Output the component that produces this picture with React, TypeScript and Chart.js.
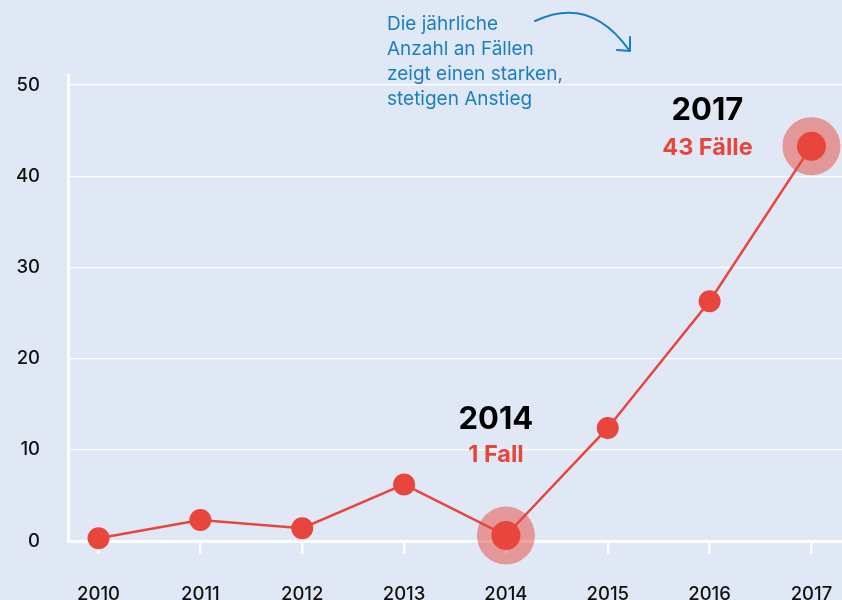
import React, { useEffect, useRef } from "react";
import { Chart, registerables } from "chart.js";

Chart.register(...registerables);

const years = [2010, 2011, 2012, 2013, 2014, 2015, 2016, 2017];
const cases = [0.3, 2.3, 1.4, 6.2, 0.6, 12.4, 26.3, 43.3];
const highlighted = [2014, 2017];
const highlightTitles = ["2014", "2017"];
const highlightLabels = ["1 Fall", "43 Fälle"];
const yTicks = [0, 10, 20, 30, 40, 50];
const noteLines = ["Die jährliche", "Anzahl an Fällen", "zeigt einen starken,", "stetigen Anstieg"];

const RED = "#e8453c";
const BG = "#e1e8f5";
const BLUE = "#1a7fc1";
const FONT = "Inter, 'Noto Sans', sans-serif";

export default function App() {
  const ref = useRef<HTMLCanvasElement | null>(null);

  useEffect(() => {
    if (!ref.current) return;
    const bgPlugin = {
      id: "bg",
      beforeDraw(chart: any) {
        const { ctx, width, height } = chart;
        ctx.save();
        ctx.fillStyle = BG;
        ctx.fillRect(0, 0, width, height);
        ctx.restore();
      },
    };
    const annPlugin = {
      id: "ann",
      afterDraw(chart: any) {
        const { ctx } = chart;
        const xs = chart.scales.x;
        const ys = chart.scales.y;
        ctx.save();
        const offsets = [
          { dx: -10, dyT: -116, dyL: -81 },
          { dx: -104, dyT: -35, dyL: 2 },
        ];
        highlighted.forEach((yr, i) => {
          const idx = years.indexOf(yr);
          const px = xs.getPixelForValue(yr);
          const py = ys.getPixelForValue(cases[idx]);
          const o = offsets[i];
          ctx.textAlign = "center";
          ctx.textBaseline = "middle";
          ctx.fillStyle = "#000";
          ctx.font = `700 31px ${FONT}`;
          ctx.fillText(highlightTitles[i], px + o.dx, py + o.dyT);
          ctx.fillStyle = RED;
          ctx.font = `700 23.5px ${FONT}`;
          ctx.fillText(highlightLabels[i], px + o.dx, py + o.dyL);
        });
        ctx.textAlign = "left";
        ctx.textBaseline = "alphabetic";
        ctx.fillStyle = BLUE;
        ctx.font = `400 19px ${FONT}`;
        noteLines.forEach((t, i) => ctx.fillText(t, 387, 30 + i * 25));
        ctx.strokeStyle = BLUE;
        ctx.lineWidth = 2;
        ctx.lineCap = "round";
        ctx.lineJoin = "round";
        ctx.beginPath();
        ctx.moveTo(535, 21);
        ctx.quadraticCurveTo(590, -5, 629, 50);
        ctx.stroke();
        ctx.beginPath();
        ctx.moveTo(630, 37);
        ctx.lineTo(630, 51);
        ctx.lineTo(617, 50);
        ctx.stroke();
        ctx.restore();
      },
    };

    const chart = new Chart(ref.current, {
      type: "line",
      data: {
        datasets: [
          {
            data: years.map((y, i) => ({ x: y, y: cases[i] })),
            borderColor: RED,
            borderWidth: 2.5,
            pointBackgroundColor: RED,
            pointBorderWidth: 0,
            pointRadius: years.map((y) => (highlighted.includes(y) ? 14.5 : 11)),
            tension: 0,
            clip: false,
          },
          {
            data: years
              .map((y, i) => ({ x: y, y: cases[i] }))
              .filter((p) => highlighted.includes(p.x)),
            showLine: false,
            pointBackgroundColor: "rgba(232,69,60,0.5)",
            pointBorderWidth: 0,
            pointRadius: 29,
            clip: false,
          },
        ],
      },
      options: {
        animation: false,
        responsive: false,
        layout: { autoPadding: false, padding: { top: 75, left: 0, right: 0, bottom: 0 } },
        plugins: { legend: { display: false }, tooltip: { enabled: false } },
        scales: {
          x: {
            type: "linear",
            min: 2009.7,
            max: 2017.3,
            afterBuildTicks: (s: any) => {
              s.ticks = years.map((v) => ({ value: v }));
            },
            afterFit: (s: any) => {
              s.height = 59;
              s.paddingLeft = 0;
              s.paddingRight = 0;
            },
            grid: {
              drawOnChartArea: false,
              drawTicks: true,
              tickLength: 13,
              color: "#ffffff",
              lineWidth: 2.5,
            },
            border: { display: true, color: "#ffffff", width: 3 },
            ticks: {
              padding: 29,
              color: "#111111",
              font: { family: FONT, size: 18.5, weight: "500" },
              callback: (v: any) => String(v),
              maxRotation: 0,
              autoSkip: false,
            },
          },
          y: {
            min: 0,
            max: 51.1,
            afterBuildTicks: (s: any) => {
              s.ticks = yTicks.map((v) => ({ value: v }));
            },
            afterFit: (s: any) => {
              s.width = 68;
              s.paddingTop = 0;
              s.paddingBottom = 0;
            },
            grid: { drawTicks: false, color: "#ffffff", lineWidth: 1.2 },
            border: { display: true, color: "#ffffff", width: 3 },
            ticks: {
              padding: 28,
              color: "#111111",
              font: { family: FONT, size: 18.5, weight: "500" },
            },
          },
        },
      },
      plugins: [bgPlugin, annPlugin],
    } as any);
    return () => chart.destroy();
  }, []);

  return (
    <div style={{ position: "fixed", left: 0, top: 0, width: 842, height: 600, background: BG }}>
      <canvas ref={ref} width={842} height={600} style={{ width: 842, height: 600, display: "block" }} />
    </div>
  );
}
